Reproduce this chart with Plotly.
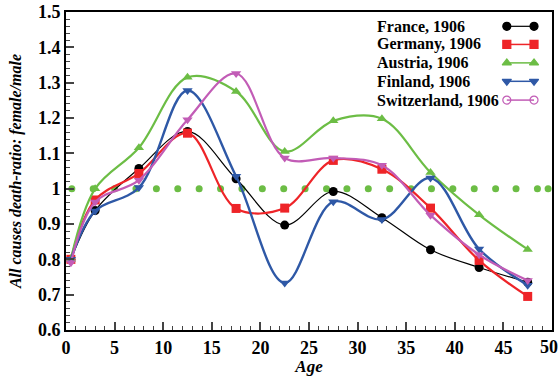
import plotly.graph_objects as go

ages = [0.5, 3, 7.5, 12.5, 17.5, 22.5, 27.5, 32.5, 37.5, 42.5, 47.5]
france = [0.80, 0.938, 1.057, 1.162, 1.028, 0.897, 0.992, 0.918, 0.827, 0.777, 0.735]
germany = [0.80, 0.968, 1.043, 1.157, 0.944, 0.945, 1.080, 1.055, 0.945, 0.797, 0.695]
austria = [0.80, 1.000, 1.116, 1.315, 1.275, 1.105, 1.192, 1.198, 1.046, 0.926, 0.828]
finland = [0.80, 0.937, 1.003, 1.278, 1.035, 0.733, 0.963, 0.913, 1.030, 0.829, 0.727]
switzerland = [0.79, 0.962, 1.024, 1.195, 1.326, 1.087, 1.087, 1.066, 0.925, 0.813, 0.740]

x_tick_vals = [0, 5, 10, 15, 20, 25, 30, 35, 40, 45, 50]
x_tick_text = ["0", "5", "10", "15", "20", "25", "30", "35", "40", "45", ""]
x_last_label = "50"

ref_x = [0.6, 2.8, 5.0, 7.2, 9.3, 11.5, 13.7, 15.9, 18.1, 20.2, 22.4, 24.6,
         26.8, 28.9, 31.1, 33.3, 35.5, 37.6, 39.8, 42.0, 44.2, 46.3, 48.5, 49.6]
ref_y = [1.0] * len(ref_x)

names = ["France, 1906", "Germany, 1906", "Austria, 1906", "Finland, 1906", "Switzerland, 1906"]
series = [france, germany, austria, finland, switzerland]
colors = ["#000000", "#ee2428", "#6cbd45", "#2e58a6", "#c25cb6"]
widths = [1.2, 2.2, 2.2, 2.4, 2.2]
symbols = ["circle", "square", "triangle-up", "triangle-down", "triangle-down"]
legend_symbols = ["circle", "square", "triangle-up", "triangle-down", "circle-open"]
sizes = [9, 9, 9, 9, 9]

FONT = "Liberation Serif"
fig = go.Figure()

fig.add_trace(go.Scatter(x=ref_x, y=ref_y, mode="markers",
                         marker=dict(color="#6cbd45", size=7), showlegend=False,
                         cliponaxis=False))

for name, ys, c, w, s, sz in zip(names, series, colors, widths, symbols, sizes):
    fig.add_trace(go.Scatter(x=ages, y=ys, mode="lines+markers", name=name,
                             line=dict(color=c, width=w, shape="spline", smoothing=1.0),
                             marker=dict(symbol=s, color=c, size=sz),
                             showlegend=False, cliponaxis=False))

# custom legend (text left, sample right) on a hidden overlay axis
row_y = [0.955, 0.898, 0.840, 0.782, 0.723]
for i, (name, c, w, ls) in enumerate(zip(names, colors, widths, legend_symbols)):
    fig.add_trace(go.Scatter(x=[0.907, 0.963], y=[row_y[i], row_y[i]], mode="lines+markers",
                             xaxis="x2", yaxis="y2", showlegend=False, hoverinfo="skip",
                             line=dict(color=c, width=min(w, 1.5)),
                             marker=dict(symbol=ls, color=c, size=8,
                                         line=dict(color=c, width=1.2))))
    fig.add_annotation(x=0.635, y=row_y[i], xref="x2", yref="y2", text="<b>" + name + "</b>",
                       showarrow=False, xanchor="left", yanchor="middle",
                       font=dict(family=FONT, size=16, color="black"))

# last x tick label (would overflow the page edge otherwise)
fig.add_annotation(x=1.0, y=0, xref="paper", yref="paper", text="<b>" + x_last_label + "</b>",
                   showarrow=False, xanchor="right", yanchor="top", yshift=-5, xshift=8,
                   font=dict(family=FONT, size=18, color="black"))

fig.update_layout(
    width=560, height=376,
    margin=dict(l=66, r=8, t=12, b=46),
    paper_bgcolor="white", plot_bgcolor="white",
    font=dict(family=FONT, size=16, color="black"),
    xaxis=dict(range=[0, 50], tickvals=x_tick_vals, ticktext=x_tick_text,
               ticks="inside", ticklen=8, tickwidth=1.5,
               minor=dict(dtick=1, ticks="inside", ticklen=4, tickwidth=1),
               showline=True, linecolor="black", linewidth=2, mirror=True,
               showgrid=False, zeroline=False, automargin=False,
               tickfont=dict(family=FONT, size=18, weight="bold"),
               title=dict(text="<b><i>Age</i></b>", font=dict(family=FONT, size=17), standoff=8)),
    yaxis=dict(range=[0.6, 1.5], dtick=0.1, ticks="inside", ticklen=8, tickwidth=1.5,
               minor=dict(dtick=0.02, ticks="inside", ticklen=4, tickwidth=1),
               showline=True, linecolor="black", linewidth=2, mirror=True,
               showgrid=False, zeroline=False, automargin=False,
               tickfont=dict(family=FONT, size=18, weight="bold"),
               title=dict(text="<b><i>All causes death-ratio: female/male</i></b>",
                          font=dict(family=FONT, size=16), standoff=12)),
    xaxis2=dict(overlaying="x", range=[0, 1], visible=False, fixedrange=True),
    yaxis2=dict(overlaying="y", range=[0, 1], visible=False, fixedrange=True),
)

fig.write_html("out.html")
